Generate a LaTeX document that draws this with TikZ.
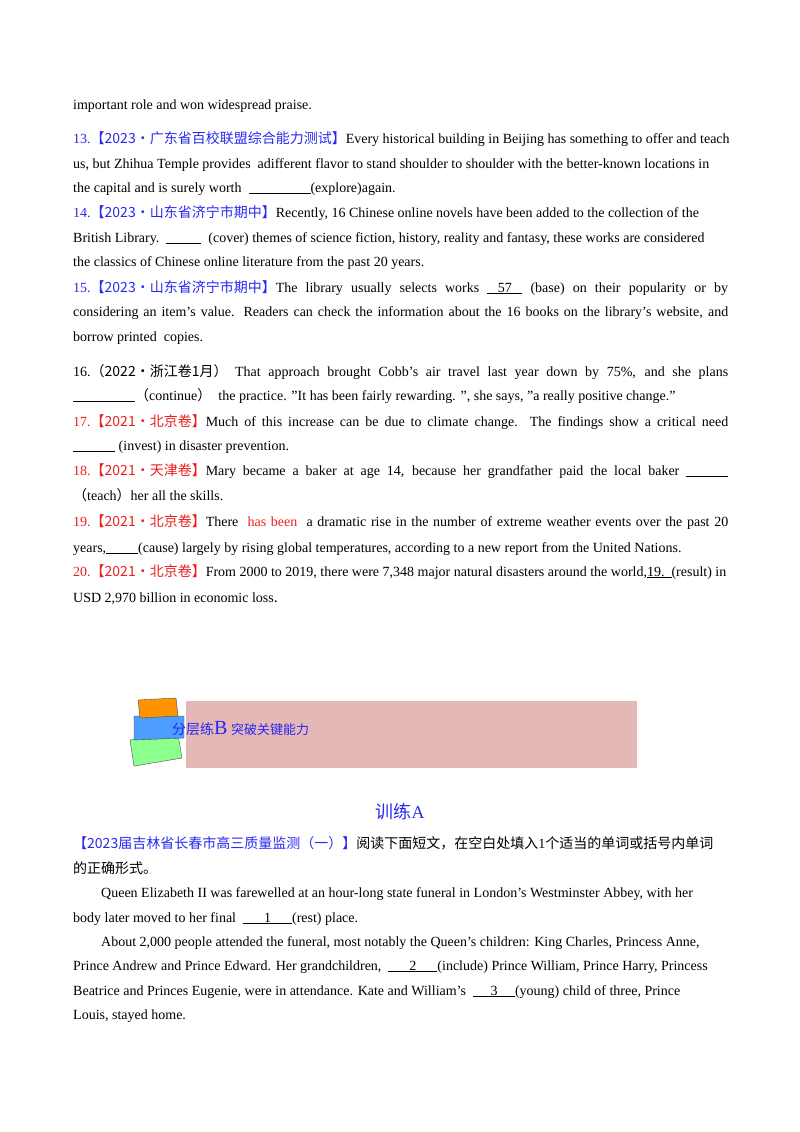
\documentclass[tikz,border=0pt]{standalone}
\usepackage{fontspec}
\setmainfont{Liberation Serif}
\newfontfamily\cjk{Noto Sans CJK SC}
\usetikzlibrary{positioning}
\definecolor{tagblue}{RGB}{40,40,240}
\definecolor{tagred}{RGB}{235,30,30}
\definecolor{bannerpink}{RGB}{229,184,184}
\newcommand{\blk}[1]{\rule[-2pt]{#1}{0.6pt}}
\newcommand{\ulx}[1]{\underline{#1}}
\newcommand{\zh}[1]{{\cjk #1}}
\newcommand{\qq}{\symbol{34}}
\newcommand{\nofill}{\parfillskip=0pt\relax}
\tikzset{
  ln/.style={anchor=base west, inner sep=0pt, font=\fontsize{14}{17}\selectfont},
  full/.style={ln, text width=655pt, align=justify, execute at begin node=\nofill},
}
\begin{document}
\begin{tikzpicture}[x=1pt,y=-1pt]
  \useasboundingbox (0,0) rectangle (800,1132);
  % first part
  \node[ln] (l1) at (73,109) {important role and won widespread praise.};
  \node[ln] (q13a) at (73,143) {\textcolor{tagblue}{13.\zh{【2023·广东省百校联盟综合能力测试】}}Every historical building in Beijing has something to offer and teach};
  \node[ln] (q13b) at (73,168) {us, but Zhihua Temple provides\ \ adifferent flavor to stand shoulder to shoulder with the better-known locations in};
  \node[ln] (q13c) at (73,192) {the capital and is surely worth\ \ \blk{62pt}(explore)again.};
  \node[ln] (q14a) at (73,217) {\textcolor{tagblue}{14.\zh{【2023·山东省济宁市期中】}}Recently, 16 Chinese online novels have been added to the collection of the};
  \node[ln] (q14b) at (73,242) {British Library.\ \ \blk{35pt}\ \ (cover) themes of science fiction, history, reality and fantasy, these works are considered};
  \node[ln] (q14c) at (73,266) {the classics of Chinese online literature from the past 20 years.};
  \node[full] (q15a) at (73,292) {\textcolor{tagblue}{15.\zh{【2023·山东省济宁市期中】}}The library usually selects works \ulx{\ \ \ 57\ \ \ } (base) on their popularity or by};
  \node[full] (q15b) at (73,316) {considering an item’s value. Readers can check the information about the 16 books on the library’s website, and};
  \node[ln] (q15c) at (73,341) {borrow printed\ \ copies.};
  % second part
  \node[full] (q16a) at (73,376) {16.\zh{（2022·浙江卷1月）} That approach brought Cobb's air travel last year down by 75\%, and she plans};
  \node[ln] (q16b) at (73,400) {\blk{62pt}\zh{（}continue\zh{）}\ \ the practice. \qq It has been fairly rewarding. \qq, she says, \qq a really positive change.\qq};
  \node[full] (q17a) at (73,426) {\textcolor{tagred}{17.\zh{【2021·北京卷】}}Much of this increase can be due to climate change. The findings show a critical need};
  \node[ln] (q17b) at (73,450) {\blk{42pt} (invest) in disaster prevention.};
  \node[full] (q18a) at (73,475) {\textcolor{tagred}{18.\zh{【2021·天津卷】}}Mary became a baker at age 14, because her grandfather paid the local baker \blk{42pt}};
  \node[ln] (q18b) at (73,500) {\zh{（}teach\zh{）}her all the skills.};
  \node[full] (q19a) at (73,526) {\textcolor{tagred}{19.\zh{【2021·北京卷】}}There\ \ \textcolor{tagred}{has been}\ \ a dramatic rise in the number of extreme weather events over the past 20};
  \node[ln] (q19b) at (73,552) {years,\blk{32pt}(cause) largely by rising global temperatures, according to a new report from the United Nations.};
  \node[ln] (q20a) at (73,576) {\textcolor{tagred}{20.\zh{【2021·北京卷】}}From 2000 to 2019, there were 7,348 major natural disasters around the world,\ulx{19.\ \ }(result) in};
  \node[ln] (q20b) at (73,602) {USD 2,970 billion in economic loss\zh{.}};
  % banner
  \fill[bannerpink] (186,701) rectangle (637,768);
  \fill[green!45!white, draw=black!70] (130,740) -- (178,734) -- (182,758) -- (134,766) -- cycle;
  \fill[blue!55!cyan!70, draw=black!70] (134,716) -- (184,716) -- (184,738) -- (134,740) -- cycle;
  \fill[orange!85!yellow, draw=black!70] (138,700) -- (176,698) -- (178,716) -- (140,718) -- cycle;
  \node[ln, text=tagblue] (ban) at (172,734) {\zh{分层练}{\fontsize{20}{20}\selectfont B} \zh{\fontsize{13}{13}\selectfont 突破关键能力}};
  \node[ln, text=tagblue, anchor=base] (tA) at (400,818) {\fontsize{18}{20}\selectfont\zh{训练}A};
  % passage
  \node[ln] (pa) at (73,848) {\textcolor{tagblue}{\zh{【2023届吉林省长春市高三质量监测（一）】}}\zh{阅读下面短文，在空白处填入}1\zh{个适当的单词或括号内单词}};
  \node[ln] (pb) at (73,873) {\zh{的正确形式。}};
  \node[ln] (pc) at (101,897) {Queen Elizabeth II was farewelled at an hour-long state funeral in London’s Westminster Abbey, with her};
  \node[ln] (pd) at (73,922) {body later moved to her final\ \ \ulx{\ \ \ \ \ \ 1\ \ \ \ \ \ }(rest) place.};
  \node[ln] (pe) at (101,946) {About 2,000 people attended the funeral, most notably the Queen’s children: King Charles, Princess Anne,};
  \node[ln] (pf) at (73,970) {Prince Andrew and Prince Edward. Her grandchildren,\ \ \ulx{\ \ \ \ \ \ 2\ \ \ \ \ \ }(include) Prince William, Prince Harry, Princess};
  \node[ln] (pg) at (73,995) {Beatrice and Princes Eugenie, were in attendance. Kate and William’s\ \ \ulx{\ \ \ \ \ 3\ \ \ \ \ }(young) child of three, Prince};
  \node[ln] (ph) at (73,1019) {Louis, stayed home.};
\end{tikzpicture}
\end{document}
